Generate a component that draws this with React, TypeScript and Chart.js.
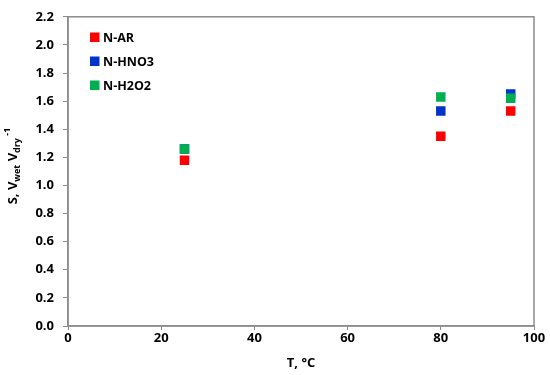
import React, { useEffect, useRef } from "react";
import { Chart, registerables } from "chart.js";

Chart.register(...registerables);

const temps = [25, 80, 95];
const seriesNames = ["N-AR", "N-HNO3", "N-H2O2"];
const nAR = [1.18, 1.35, 1.53];
const nHNO3 = [1.26, 1.53, 1.65];
const nH2O2 = [1.26, 1.63, 1.62];
const colors = ["#ff0000", "#0033cc", "#00b050"];
const xTitle = "T, °C";

const FONT = "'Open Sans', sans-serif";

const overlay = {
  id: "overlay",
  afterDraw(chart: any) {
    const ctx = chart.ctx;
    const a = chart.chartArea;
    ctx.save();
    ctx.strokeStyle = "#8c8c8c";
    ctx.lineWidth = 1.5;
    ctx.strokeRect(a.left, a.top, a.right - a.left, a.bottom - a.top);
    ctx.font = `bold 12.5px ${FONT}`;
    ctx.textBaseline = "middle";
    chart.data.datasets.forEach((ds: any, i: number) => {
      const cy = 37 + i * 24;
      ctx.fillStyle = ds.backgroundColor;
      ctx.fillRect(90, cy - 4.5, 9.5, 9.5);
      ctx.fillStyle = "#000";
      ctx.textAlign = "left";
      ctx.fillText(ds.label, 103, cy + 1);
    });
    ctx.translate(13, 166);
    ctx.rotate(-Math.PI / 2);
    const parts: [string, number, number][] = [
      ["S, V", 13, 0],
      ["wet", 9, 4],
      [" V", 13, 0],
      ["dry", 9, 4],
      [" -1", 9, -6],
    ];
    let total = 0;
    parts.forEach(([t, s]) => {
      ctx.font = `bold ${s}px ${FONT}`;
      total += ctx.measureText(t).width;
    });
    let x = -total / 2;
    ctx.fillStyle = "#000";
    ctx.textAlign = "left";
    ctx.textBaseline = "middle";
    parts.forEach(([t, s, dy]) => {
      ctx.font = `bold ${s}px ${FONT}`;
      ctx.fillText(t, x, dy);
      x += ctx.measureText(t).width;
    });
    ctx.restore();
  },
};

export default function App() {
  const ref = useRef<HTMLCanvasElement>(null);
  useEffect(() => {
    const data = [nAR, nHNO3, nH2O2];
    const chart = new Chart(ref.current!, {
      type: "scatter",
      data: {
        datasets: seriesNames.map((name, i) => ({
          label: name,
          data: temps.map((t, j) => ({ x: t, y: data[i][j] })),
          backgroundColor: colors[i],
          borderColor: colors[i],
          pointStyle: "rect",
          pointRadius: 6.7,
          borderWidth: 0,
          order: 3 - i,
        })),
      },
      options: {
        animation: false,
        responsive: false,
        layout: { padding: { top: 13, right: 16, left: 0, bottom: 4 } },
        plugins: {
          legend: { display: false },
          tooltip: { enabled: false },
        },
        scales: {
          x: {
            type: "linear",
            min: 0,
            max: 100,
            ticks: {
              stepSize: 20,
              color: "#000",
              font: { family: FONT, size: 13, weight: "bold" },
              padding: 0,
            },
            grid: { drawOnChartArea: false, tickLength: 4, color: "#8c8c8c" },
            border: { color: "#8c8c8c", width: 1.5 },
            title: {
              display: true,
              text: xTitle,
              color: "#000",
              font: { family: FONT, size: 13, weight: "bold" },
              padding: { top: 0, bottom: 0 },
            },
            afterFit(scale: any) {
              scale.height = 45;
            },
          },
          y: {
            min: 0,
            max: 2.2,
            ticks: {
              stepSize: 0.2,
              color: "#000",
              font: { family: FONT, size: 13, weight: "bold" },
              padding: 9,
              callback: (v: any) => Number(v).toFixed(1),
            },
            grid: { drawOnChartArea: false, tickLength: 5, color: "#8c8c8c" },
            border: { color: "#8c8c8c", width: 1.5 },
            afterFit(scale: any) {
              scale.width = 68;
            },
          },
        },
      },
      plugins: [overlay],
    });
    return () => chart.destroy();
  }, []);
  return (
    <div style={{ position: "absolute", left: 0, top: 0, width: 550, height: 375, background: "#fff" }}>
      <canvas ref={ref} width={550} height={375} />
    </div>
  );
}
